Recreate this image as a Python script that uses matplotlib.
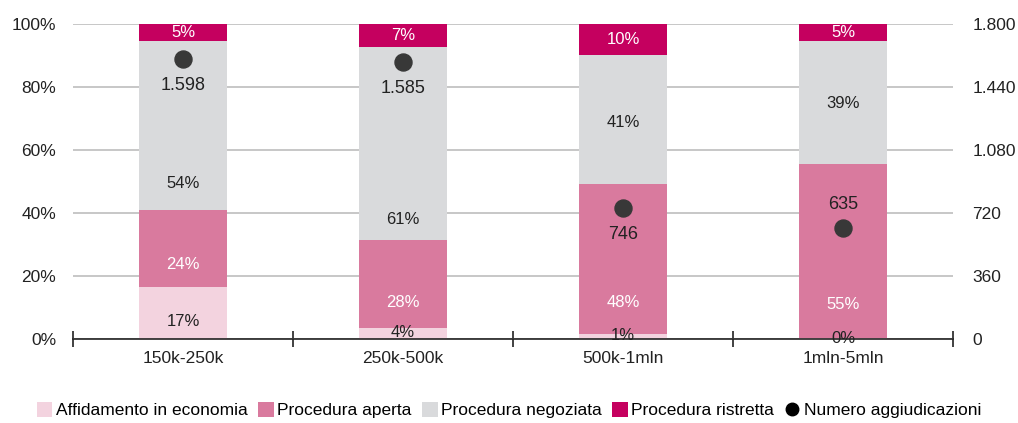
import matplotlib.pyplot as plt
from matplotlib.lines import Line2D
from matplotlib.patches import Patch
import numpy as np

plt.rcParams["font.family"] = ["Liberation Sans", "DejaVu Sans"]

categories = ["150k-250k", "250k-500k", "500k-1mln", "1mln-5mln"]
affidamento = [16.5, 3.5, 1.6, 0.2]
aperta = [24.5, 27.9, 47.6, 55.4]
negoziata = [53.6, 61.3, 41.0, 39.0]
ristretta = [5.4, 7.3, 9.8, 5.4]
numero = [1598, 1585, 746, 635]

pct_labels = [
    ["17%", "24%", "54%", "5%"],
    ["4%", "28%", "61%", "7%"],
    ["1%", "48%", "41%", "10%"],
    ["0%", "55%", "39%", "5%"],
]
# label heights (left-axis %), as placed in the original
label_y = [
    [5.4, 23.5, 49.5],
    [1.9, 11.7, 37.8],
    [1.2, 11.7, 68.6],
    [0.2, 10.8, 74.9],
]
num_labels = ["1.598", "1.585", "746", "635"]
num_offset = [-19, -19, -19, 17]

colors = ["#f3d3df", "#d97a9e", "#d9dadc", "#c5005f"]
series = [affidamento, aperta, negoziata, ristretta]
names = ["Affidamento in economia", "Procedura aperta", "Procedura negoziata", "Procedura ristretta"]

fig = plt.figure(figsize=(10.18, 4.23), dpi=100)
ax = fig.add_axes([0.0717, 0.199, 0.8644, 0.744])
x = np.arange(len(categories))
bottom = np.zeros(len(categories))
for vals, c in zip(series, colors):
    ax.bar(x, vals, width=0.4, bottom=bottom, color=c, zorder=2)
    bottom += np.array(vals)

ax.set_xlim(-0.5, 3.5)
ax.set_ylim(0, 100)
ax.set_yticks(range(0, 101, 20))
ax.set_yticklabels([f"{v}%" for v in range(0, 101, 20)], fontsize=12.5, color="#222")
ax.yaxis.grid(True, color="#bdbdbd", linewidth=1.2, zorder=0)
ax.set_axisbelow(True)
for s in ["left", "right", "top"]:
    ax.spines[s].set_visible(False)
ax.spines["bottom"].set_color("#222")
ax.spines["bottom"].set_linewidth(1.2)
ax.tick_params(axis="y", length=0, pad=12)
ax.set_xticks([-0.5, 0.5, 1.5, 2.5, 3.5])
ax.set_xticklabels([])
ax.tick_params(axis="x", direction="inout", length=12, width=1.2, color="#222")
for i, cat in enumerate(categories):
    ax.text(i, -6.2, cat, ha="center", va="center", fontsize=12.5, color="#222")

for i in range(len(categories)):
    for j in range(3):
        tc = "white" if j == 1 else "#222"
        ax.text(i, label_y[i][j], pct_labels[i][j], ha="center", va="center",
                fontsize=12, color=tc, zorder=4)
    top_mid = 100 - ristretta[i] / 2
    ax.text(i, top_mid, pct_labels[i][3], ha="center", va="center",
            fontsize=12, color="white", zorder=4)

ax2 = ax.twinx()
ax2.set_ylim(0, 1800)
ax2.set_yticks(range(0, 1801, 360))
ax2.set_yticklabels(["0", "360", "720", "1.080", "1.440", "1.800"], fontsize=12.5, color="#222")
ax2.tick_params(axis="y", length=0, pad=14)
for s in ["left", "right", "top", "bottom"]:
    ax2.spines[s].set_visible(False)
ax2.scatter(x, numero, s=150, color="#383838", zorder=5)
for i in range(len(categories)):
    ax2.annotate(num_labels[i], (x[i], numero[i]), xytext=(0, num_offset[i]),
                 textcoords="offset points", ha="center", va="center",
                 fontsize=13, color="#222")

handles = [Patch(facecolor=c, edgecolor="none") for c in colors]
handles.append(Line2D([], [], marker="o", linestyle="none", color="black", markersize=9))
fig.legend(handles, names + ["Numero aggiudicazioni"], loc="center", bbox_to_anchor=(0.5, 0.03),
           ncol=5, frameon=False, fontsize=12.5, handlelength=0.9, handleheight=0.9,
           handletextpad=0.2, columnspacing=0.6)

fig.savefig("out.png", dpi=100, facecolor="white")
